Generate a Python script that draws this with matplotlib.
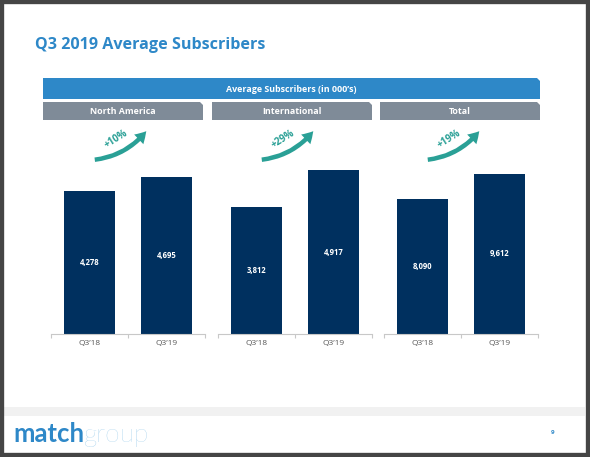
import matplotlib.pyplot as plt
from matplotlib.patches import Polygon, Rectangle, FancyArrowPatch

# data (000's)
regions = ['North America', 'International', 'Total']
periods = ['Q3’18', 'Q3’19']
subs_na = [4278, 4695]
subs_intl = [3812, 4917]
subs_total = [8090, 9612]
growth = ['+10%', '+29%', '+19%']

W, H = 590, 457
navy = '#00305f'
blue = '#2e88c8'
grey_hdr = '#7f8b98'
teal = '#2aa096'

plt.rcParams['font.family'] = ['Open Sans', 'DejaVu Sans']

fig = plt.figure(figsize=(W / 100, H / 100), dpi=100)
fig.patch.set_facecolor('white')

# overlay axes in pixel coords for the slide decorations
bg = fig.add_axes([0, 0, 1, 1])
bg.set_xlim(0, W)
bg.set_ylim(H, 0)
bg.axis('off')

# slide frame
bg.add_patch(Rectangle((0, 0), W, H, fill=False, ec='#454545', lw=6, zorder=10))

# title
bg.text(35, 45, 'Q3 2019 Average Subscribers', color=blue, fontsize=11.6,
        fontweight='bold', ha='left', va='center')


def tab(x0, x1, y0, y1, color, cut=3):
    pts = [(x0, y0), (x1 - cut, y0), (x1, y0 + cut), (x1, y1), (x0, y1)]
    bg.add_patch(Polygon(pts, closed=True, fc=color, ec='none'))


tab(43, 540, 78, 99, blue)
bg.text(291.5, 89, 'Average Subscribers (in 000’s)', color='white', fontsize=6.4,
        fontweight='bold', ha='center', va='center')

tab_x = [(43, 203), (212, 372), (380, 540)]
for (x0, x1), name in zip(tab_x, regions):
    tab(x0, x1, 102, 120, grey_hdr)
    bg.text((x0 + x1) / 2, 111.5, name, color='white', fontsize=6.4,
            fontweight='bold', ha='center', va='center')

# bar panels
panel_left = [51, 218, 384]
panel_w = 154
base_y = 334
top_y = 150
scales = [30.0, 30.0, 60.0]  # units per pixel
series = [subs_na, subs_intl, subs_total]

for left, vals, sc, g in zip(panel_left, series, scales, growth):
    ax = fig.add_axes([left / W, 1 - base_y / H, panel_w / W, (base_y - top_y) / H])
    ax.bar(range(len(periods)), vals, width=0.67, color=navy)
    ax.set_xlim(-0.5, 1.5)
    ax.set_ylim(0, sc * (base_y - top_y))
    for i, v in enumerate(vals):
        ax.text(i, v / 2, f'{v:,}', color='white', fontsize=5.5, fontweight='bold',
                ha='center', va='center')
    for s in ['top', 'right', 'left']:
        ax.spines[s].set_visible(False)
    ax.spines['bottom'].set_color('#c8c8c8')
    ax.spines['bottom'].set_linewidth(0.8)
    ax.set_yticks([])
    ax.set_xticks([-0.5, 0.5, 1.5], minor=False)
    ax.set_xticklabels([])
    ax.tick_params(axis='x', length=3, color='#c8c8c8', width=0.8)
    for i, p in enumerate(periods):
        ax.text(i, -0.035, p, transform=ax.get_xaxis_transform(), color='#595959',
                fontsize=6, ha='center', va='top')
    ax.patch.set_alpha(0)

    # growth arrow
    off = left - 51
    arr = FancyArrowPatch((92 + off, 160), (148 + off, 129),
                          connectionstyle='arc3,rad=0.22',
                          arrowstyle='simple,head_length=5,head_width=6,tail_width=2',
                          color=teal, lw=0, mutation_scale=1.6)
    bg.add_patch(arr)
    bg.text(116 + off, 139, g, color=teal, fontsize=7, fontweight='bold',
            rotation=32, ha='center', va='center')

# footer
bg.add_patch(Rectangle((3, 407), W - 8, 9, fc='#f1f1f1', ec='none'))
t = bg.text(13, 442, 'match', color=blue, fontsize=18.5, fontweight='bold',
            ha='left', va='baseline', family=['Lato', 'DejaVu Sans'])
fig.canvas.draw()
bb = t.get_window_extent()
gx = bb.x1
bg.text(gx, 442, 'group', color='#8cc4e8', fontsize=19, fontweight='light',
        ha='left', va='baseline', family=['Lato', 'DejaVu Sans'])
bg.text(553, 432, '9', color=blue, fontsize=4.5, fontweight='bold',
        ha='center', va='center')

fig.savefig('out.png', dpi=100)
